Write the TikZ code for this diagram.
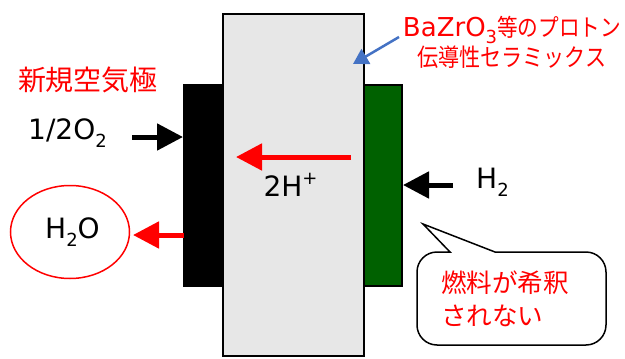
\documentclass[tikz,border=0pt]{standalone}
\usepackage{fontspec}
\setmainfont{DejaVu Sans}
\newfontfamily\cjk{Noto Sans CJK JP}
\newfontfamily\cjknarrow[FakeStretch=0.86]{Noto Sans CJK JP}
\usetikzlibrary{arrows.meta,shapes.geometric}
\definecolor{cellgray}{HTML}{E7E7E7}
\definecolor{anode}{HTML}{006100}
\definecolor{bluearrow}{HTML}{4472C4}
\newcommand{\lowered}[1]{\raisebox{-0.3em}{\fontsize{18}{18}\selectfont #1}}
\tikzset{
  plate/.style={draw=black,line width=2pt,inner sep=0pt,outer sep=0pt},
  fatarrow/.style={line width=5pt,-{Triangle[length=26pt,width=26pt]}},
  lab/.style={inner sep=0pt,outer sep=0pt,anchor=base,text=black,font=\fontsize{28}{30}\selectfont},
  redlab/.style={inner sep=0pt,outer sep=0pt,text=red,align=center}
}
\begin{document}
\begin{tikzpicture}[x=1pt,y=-1pt]
\useasboundingbox (0,0) rectangle (625,359);
\node[plate,fill=cellgray,minimum width=141pt,minimum height=342pt] (cell) at (293.5,185) {};
\node[plate,draw=none,fill=black,minimum width=41pt,minimum height=203pt] (cathode) at (203,185.5) {};
\node[plate,fill=anode,minimum width=38pt,minimum height=201pt] (anode) at (383,185.5) {};
\node[redlab,font=\fontsize{28}{30}\cjk] (kyoku) at (88,80) {新規空気極};
\node[lab] (o2) at (67.5,139) {1/2O\lowered{2}};
\node[draw=red,line width=1.5pt,ellipse,minimum width=119pt,minimum height=93pt,inner sep=0pt] (water) at (70,232) {};
\node[lab] at (72.5,238) {H\lowered{2}O};
\node[lab] (h2) at (492.5,188) {H\lowered{2}};
\node[lab] (proton) at (290.5,196) {2H\raisebox{0.42em}{\fontsize{18}{18}\selectfont +}};
\coordinate (o2s) at (132,137);
\coordinate (o2e) at (183,137);
\coordinate (ws) at (184,235);
\coordinate (we) at (133,235);
\coordinate (ps) at (351,157);
\coordinate (pe) at (236,157);
\coordinate (hs) at (453,185);
\coordinate (he) at (403,185);
\draw[fatarrow,black] (o2s) -- (o2e);
\draw[fatarrow,red] (ws) -- (we);
\draw[fatarrow,red] (ps) -- (pe);
\draw[fatarrow,black] (hs) -- (he);
\node[redlab,font=\fontsize{24}{30}\selectfont] (ceramic) at (512,42) {{\fontsize{26}{30}\selectfont BaZrO\lowered{3}}{\cjknarrow 等のプロトン}\\{\fontsize{24.5}{30}\cjknarrow 伝導性セラミックス}};
\coordinate (bs) at (399,37);
\coordinate (be) at (353,64);
\draw[bluearrow,line width=2.5pt,-{Triangle[length=15pt,width=17pt]}] (bs) -- (be);
\draw[black,line width=1.5pt,fill=white]
  (450,252) -- (423,224) -- (495,252) -- (586,252)
  arc[start angle=-90,end angle=0,radius=20pt,x radius=20pt,y radius=-20pt] -- (606,325)
  arc[start angle=0,end angle=90,x radius=20pt,y radius=-20pt] -- (437,345)
  arc[start angle=90,end angle=180,x radius=20pt,y radius=-20pt] -- (417,272)
  arc[start angle=180,end angle=270,x radius=20pt,y radius=-20pt] -- cycle;
\node[redlab,align=left,anchor=west,font=\fontsize{25.6}{33}\cjk] (fuel) at (441,299) {燃料が希釈\\されない};
\end{tikzpicture}
\end{document}
